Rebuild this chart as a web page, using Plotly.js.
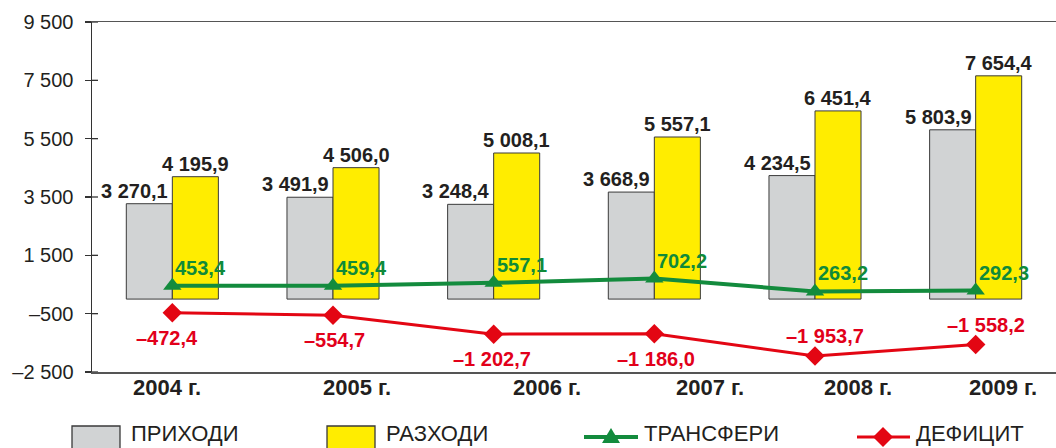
<!DOCTYPE html>
<html>
<head>
<meta charset="utf-8">
<script src="https://cdn.plot.ly/plotly-3.0.1.min.js"></script>
<style>html,body{margin:0;padding:0;background:#fff;}#chart{width:1056px;height:448px;}</style>
</head>
<body>
<div id="chart"></div>
<script>
// ---- data ----
const years = ["2004 г.", "2005 г.", "2006 г.", "2007 г.", "2008 г.", "2009 г."];
const revenues = [3270.1, 3491.9, 3248.4, 3668.9, 4234.5, 5803.9];      // ПРИХОДИ
const expenditures = [4195.9, 4506.0, 5008.1, 5557.1, 6451.4, 7654.4];  // РАЗХОДИ
const transfers = [453.4, 459.4, 557.1, 702.2, 263.2, 292.3];           // ТРАНСФЕРИ
const deficit = [-472.4, -554.7, -1202.7, -1186.0, -1953.7, -1558.2];   // ДЕФИЦИТ
const seriesNames = ["ПРИХОДИ", "РАЗХОДИ", "ТРАНСФЕРИ", "ДЕФИЦИТ"];
const tickVals = [9500, 7500, 5500, 3500, 1500, -500, -2500];
const tickText = ["9 500", "7 500", "5 500", "3 500", "1 500", "–500", "–2 500"];

// ---- helpers ----
function fmt(v) {
  const neg = v < 0;
  const parts = Math.abs(v).toFixed(1).split(".");
  const intp = parts[0].replace(/\B(?=(\d{3})+(?!\d))/g, " ");
  return (neg ? "–" : "") + intp + "," + parts[1];
}

const FONT = "Liberation Sans, Arial, sans-serif";
const DARK = "#231f20";
const GRAY = "#d1d3d4";
const YELLOW = "#ffed00";
const GREEN = "#138b3d";
const RED = "#e30613";

const traces = [
  { type: "bar", x: years, y: revenues, name: seriesNames[0],
    marker: { color: GRAY, line: { color: "#3a3a3a", width: 1 } }, hoverinfo: "y" },
  { type: "bar", x: years, y: expenditures, name: seriesNames[1],
    marker: { color: YELLOW, line: { color: "#3a3a3a", width: 1 } }, hoverinfo: "y" },
  { type: "scatter", mode: "lines+markers", x: years, y: transfers, name: seriesNames[2],
    line: { color: GREEN, width: 4 }, marker: { symbol: "triangle-up", size: 16, color: GREEN }, cliponaxis: false },
  { type: "scatter", mode: "lines+markers", x: years, y: deficit, name: seriesNames[3],
    line: { color: RED, width: 3 }, marker: { symbol: "diamond", size: 15, color: RED }, cliponaxis: false }
];

const annotations = [];
const lblFont = { family: FONT, size: 20, color: DARK };
// bar labels
years.forEach((yr, i) => {
  annotations.push({ x: yr, y: revenues[i], text: "<b>" + fmt(revenues[i]) + "</b>", showarrow: false,
    xanchor: "right", yanchor: "bottom", xshift: -2, yshift: 0, font: lblFont });
  annotations.push({ x: yr, y: expenditures[i], text: "<b>" + fmt(expenditures[i]) + "</b>", showarrow: false,
    xanchor: "center", yanchor: "bottom", xshift: 23, yshift: 0, font: lblFont });
  annotations.push({ x: yr, y: transfers[i], text: "<b>" + fmt(transfers[i]) + "</b>", showarrow: false,
    xanchor: "left", yanchor: "bottom", xshift: 1, yshift: 5, font: { family: FONT, size: 20, color: "#0f8a3a" } });
});
// deficit labels: first four below, last two above-right
const defBelow = [true, true, true, true, false, false];
const defXShift = [-5, 1, -2, 2, 10, 10];
years.forEach((yr, i) => {
  annotations.push({ x: yr, y: deficit[i], text: "<b>" + fmt(deficit[i]) + "</b>", showarrow: false,
    xanchor: "center", yanchor: defBelow[i] ? "top" : "bottom",
    xshift: defXShift[i], yshift: defBelow[i] ? -12 : 7,
    font: { family: FONT, size: 20, color: "#e2001a" } });
});
// x category labels (shifted as in the original)
const xLabShift = [-5, 24, 53, 56, 43, 27];
years.forEach((yr, i) => {
  annotations.push({ x: yr, y: 0, yref: "paper", text: "<b>" + yr + "</b>", showarrow: false,
    xanchor: "center", yanchor: "top", xshift: xLabShift[i], yshift: -1,
    font: { family: FONT, size: 22, color: DARK } });
});

// ---- plot geometry for manual legend (paper coords) ----
const L = 92, T = 22, W = 964, H = 350;
const px = (x) => (x - L) / W;
const py = (y) => (T + H - y) / H;

const shapes = [];
// inner tick halves
tickVals.forEach(v => {
  shapes.push({ type: "line", xref: "paper", yref: "y", xsizemode: "pixel", xanchor: 0,
    x0: 0, x1: 6, y0: v, y1: v, line: { color: "#333", width: 1.3 } });
});
// legend
const legY = 437;
const legBoxes = [[72, GRAY], [327, YELLOW]];
legBoxes.forEach(([x, c]) => {
  shapes.push({ type: "rect", xref: "paper", yref: "paper", x0: px(x), x1: px(x + 48), y0: py(450), y1: py(426),
    fillcolor: c, line: { color: "#3a3a3a", width: 1.3 } });
});
const legLines = [[584, 638, GREEN, 4], [857, 910, RED, 3]];
legLines.forEach(([a, b, c, w]) => {
  shapes.push({ type: "line", xref: "paper", yref: "paper", x0: px(a), x1: px(b), y0: py(legY), y1: py(legY),
    line: { color: c, width: w } });
});
// triangle marker
shapes.push({ type: "path", xref: "paper", yref: "paper", xsizemode: "pixel", ysizemode: "pixel",
  xanchor: px(611), yanchor: py(legY), path: "M-9,-6 L9,-6 L0,9 Z", fillcolor: GREEN, line: { width: 0 } });
// diamond marker
shapes.push({ type: "path", xref: "paper", yref: "paper", xsizemode: "pixel", ysizemode: "pixel",
  xanchor: px(883), yanchor: py(legY), path: "M-10,0 L0,-10 L10,0 L0,10 Z", fillcolor: RED, line: { width: 0 } });

const legText = [[129, seriesNames[0]], [384, seriesNames[1]], [642, seriesNames[2]], [914, seriesNames[3]]];
legText.forEach(([x, t]) => {
  annotations.push({ xref: "paper", yref: "paper", x: px(x), y: py(448), xanchor: "left", yanchor: "bottom",
    text: t, showarrow: false, font: { family: FONT, size: 22, color: DARK } });
});

const layout = {
  width: 1056, height: 448,
  margin: { l: L, r: 0, t: T, b: 448 - T - H, pad: 0 },
  paper_bgcolor: "#fff", plot_bgcolor: "#fff",
  showlegend: false,
  barmode: "group", bargap: 0.427, bargroupgap: 0,
  xaxis: { type: "category", range: [-0.5, 5.5], showticklabels: false, ticks: "",
    showline: true, mirror: true, linecolor: "#555", linewidth: 1.5, showgrid: false, zeroline: false, fixedrange: true },
  yaxis: { range: [-2500, 9500], tickvals: tickVals, ticktext: tickText, ticks: "outside", ticklen: 6,
    tickcolor: "#333", tickwidth: 1.3, ticklabelstandoff: 7,
    showline: true, linecolor: "#333", linewidth: 1.5, showgrid: false, zeroline: false,
    tickfont: { family: FONT, size: 20, color: DARK }, fixedrange: true },
  annotations: annotations,
  shapes: shapes
};

Plotly.newPlot("chart", traces, layout, { displayModeBar: false, staticPlot: true });
</script>
</body>
</html>
